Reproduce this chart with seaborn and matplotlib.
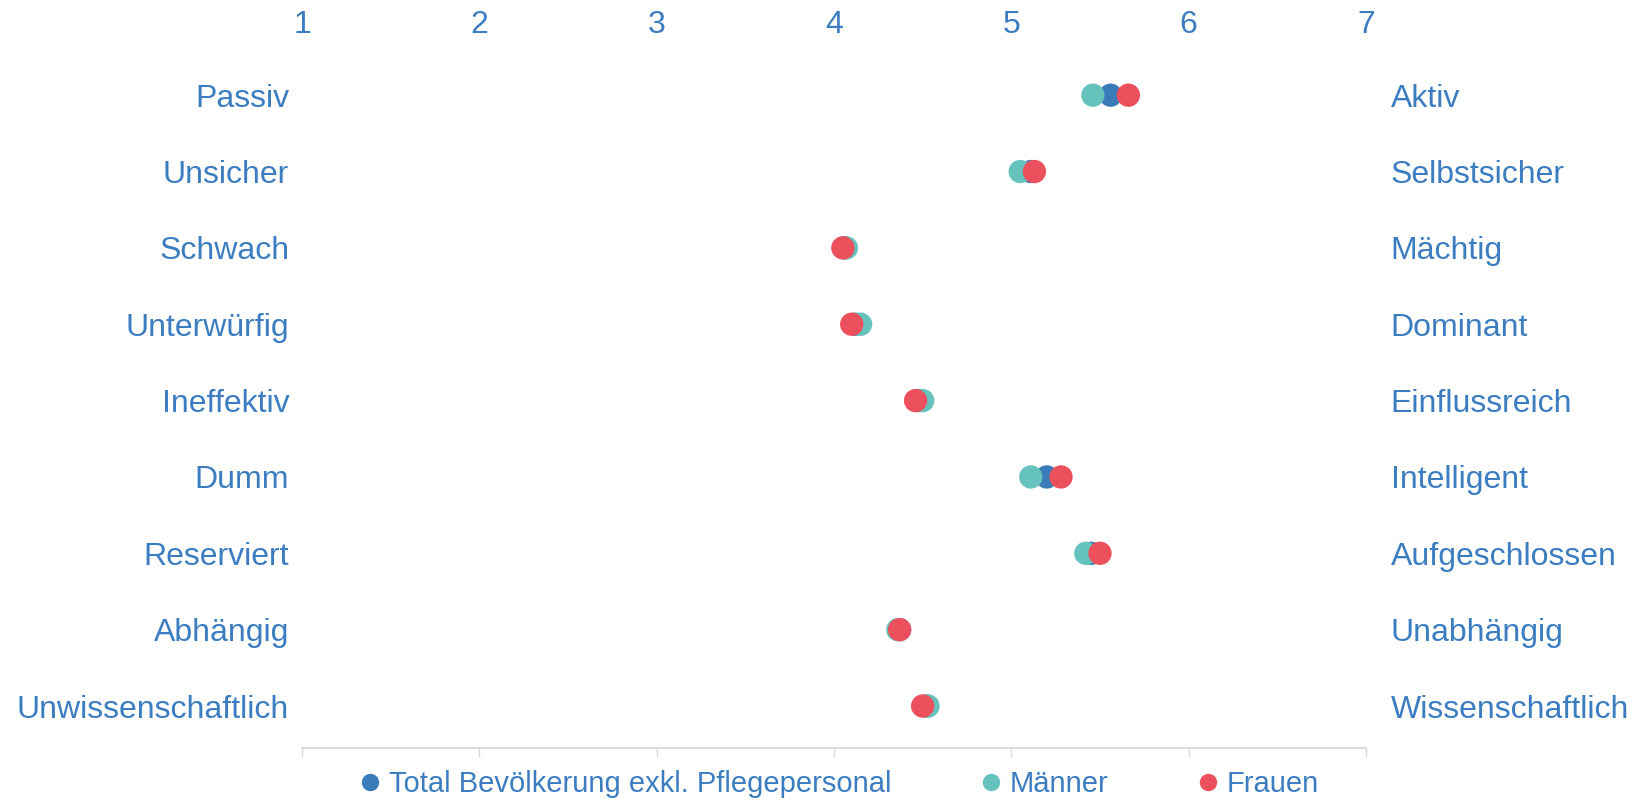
import matplotlib
matplotlib.use("Agg")
import matplotlib.pyplot as plt
from matplotlib.lines import Line2D
import seaborn as sns
import pandas as pd

left_labels = ["Passiv", "Unsicher", "Schwach", "Unterwürfig", "Ineffektiv",
               "Dumm", "Reserviert", "Abhängig", "Unwissenschaftlich"]
right_labels = ["Aktiv", "Selbstsicher", "Mächtig", "Dominant", "Einflussreich",
                "Intelligent", "Aufgeschlossen", "Unabhängig", "Wissenschaftlich"]
series_names = ["Total Bevölkerung exkl. Pflegepersonal", "Männer", "Frauen"]
total = [5.56, 5.11, 4.06, 4.12, 4.48, 5.20, 5.45, 4.37, 4.52]
maenner = [5.46, 5.05, 4.07, 4.15, 4.50, 5.11, 5.42, 4.36, 4.53]
frauen = [5.66, 5.13, 4.05, 4.10, 4.46, 5.28, 5.50, 4.37, 4.50]
x_ticks = [1, 2, 3, 4, 5, 6, 7]

colors = ["#3A7CB9", "#65C2BD", "#EC505C"]
text_color = "#3B7DC0"

sns.set_theme(style="white")
plt.rcParams["font.family"] = ["Liberation Sans", "DejaVu Sans"]

rows = []
for name, vals in zip(series_names, [total, maenner, frauen]):
    for i, v in enumerate(vals):
        rows.append({"Serie": name, "Wert": v, "pos": i})
df = pd.DataFrame(rows)

fig = plt.figure(figsize=(16.35, 8.02), dpi=100)
ax = fig.add_axes([302 / 1635, 1 - 748 / 802, (1366 - 302) / 1635, (748 - 57) / 802])

sns.scatterplot(data=df, x="Wert", y="pos", hue="Serie", hue_order=series_names,
                palette=colors, s=282, linewidth=0, edgecolor="none",
                legend=False, ax=ax, zorder=3)

ax.set_xlim(1, 7)
ax.set_ylim(8.55, -0.5)
ax.set_xticks(x_ticks)
ax.set_xticklabels([str(t) for t in x_ticks])
ax.set_yticks(range(len(left_labels)))
ax.set_yticklabels(left_labels)
ax.set_xlabel("")
ax.set_ylabel("")

ax2 = ax.twinx()
ax2.set_ylim(ax.get_ylim())
ax2.set_yticks(range(len(right_labels)))
ax2.set_yticklabels(right_labels)

for a in (ax, ax2):
    for s in ["top", "left", "right"]:
        a.spines[s].set_visible(False)
    a.grid(False)
ax2.spines["bottom"].set_visible(False)
ax.spines["bottom"].set_color("#D9D9D9")
ax.spines["bottom"].set_linewidth(1.3)

ax.tick_params(axis="x", bottom=True, top=False, labelbottom=False, labeltop=True,
               direction="out", length=6.5, width=1.0, color="#D9D9D9",
               labelsize=23, labelcolor=text_color, pad=6)
ax.tick_params(axis="y", left=False, right=False, length=0, labelsize=23,
               labelcolor=text_color, pad=9.2)
ax2.tick_params(axis="y", left=False, right=False, length=0, labelsize=23,
                labelcolor=text_color, pad=17.7)

handles = [Line2D([0], [0], marker="o", linestyle="none", markersize=12.5,
                  markerfacecolor=c, markeredgewidth=0) for c in colors]
leg = fig.legend(handles, series_names, loc="center", bbox_to_anchor=(840 / 1635, 1 - 784 / 802),
                 ncol=3, frameon=False, handlelength=0.6, handletextpad=0.35,
                 columnspacing=3.1, prop={"family": ["Liberation Sans Narrow", "Liberation Sans", "DejaVu Sans"], "size": 21})
for t in leg.get_texts():
    t.set_color(text_color)

fig.savefig("out.png", dpi=100)
